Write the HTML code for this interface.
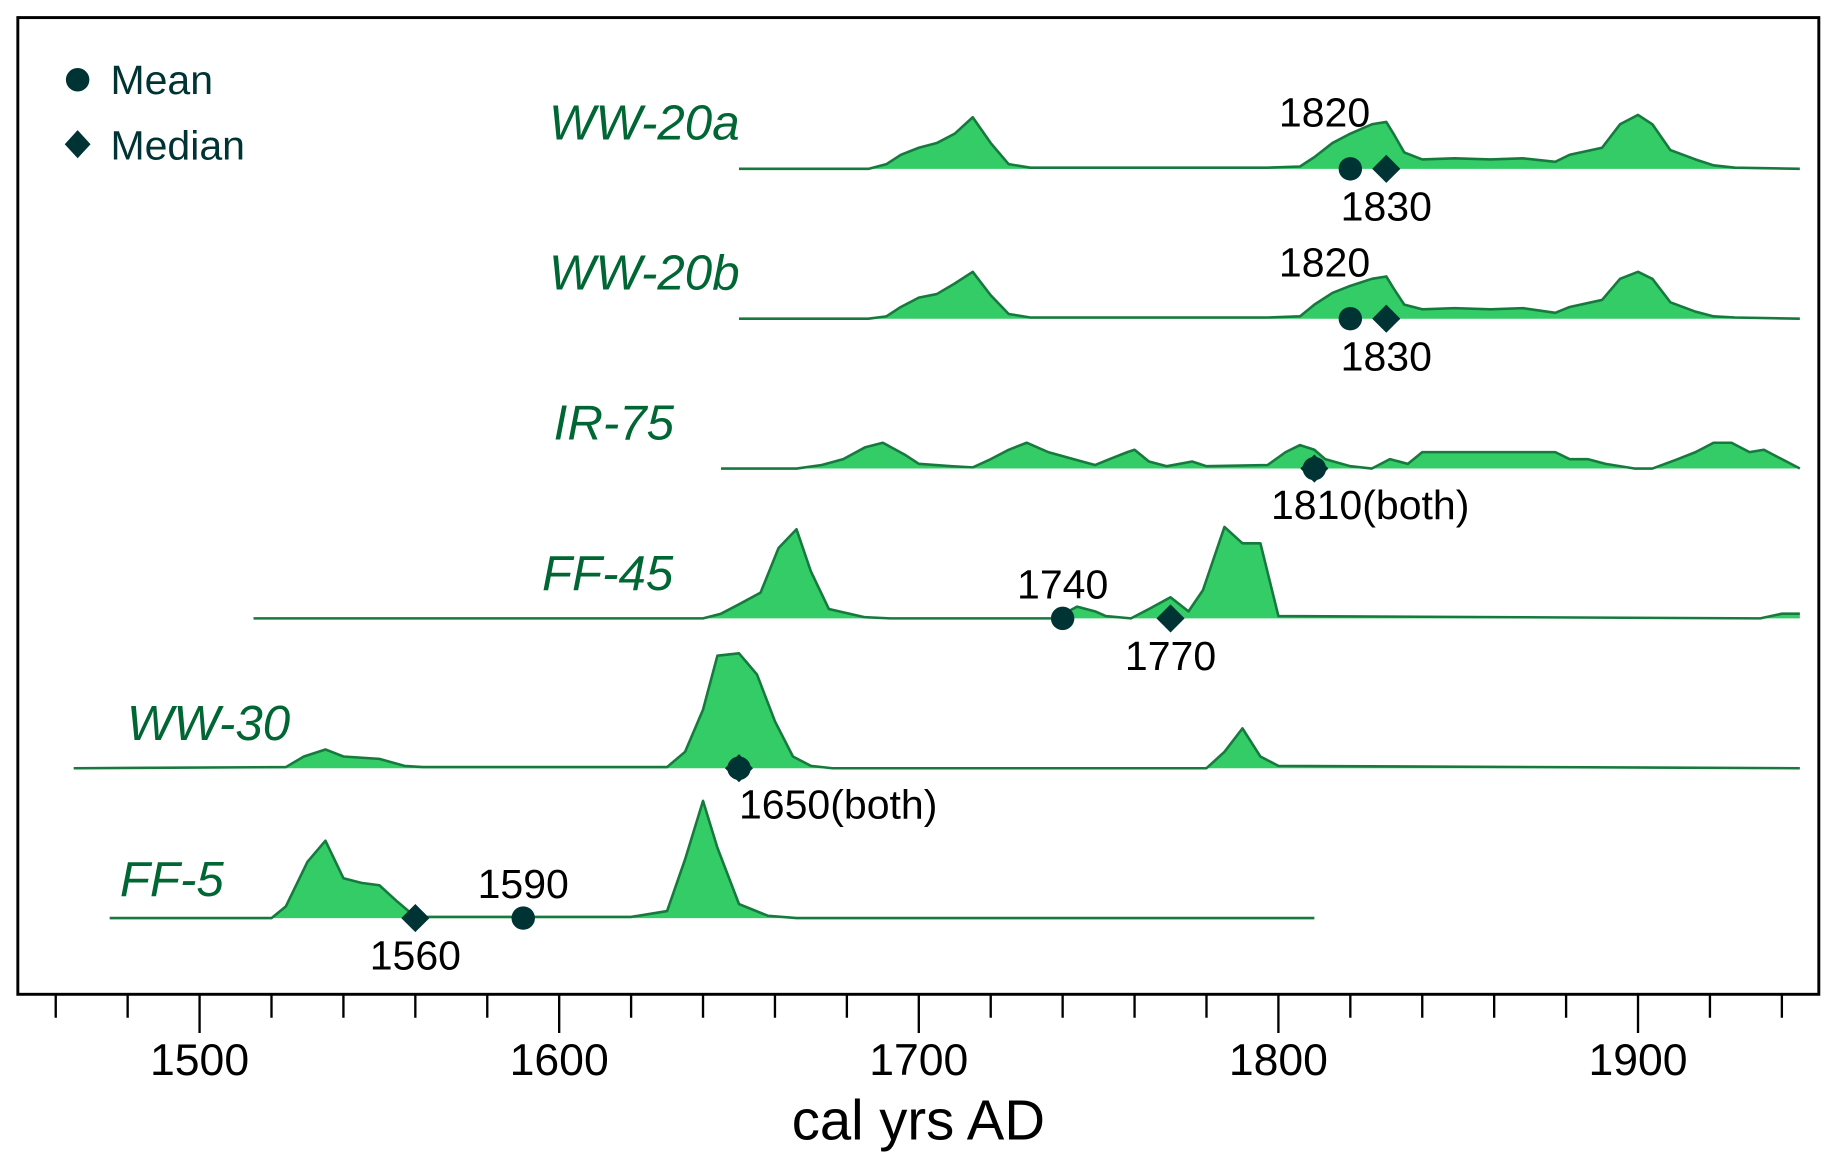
<!DOCTYPE html>
<html><head><meta charset="utf-8"><style>
html,body{margin:0;padding:0;background:#fff}
svg{display:block}
text{font-family:"Liberation Sans",sans-serif}
</style></head><body>
<svg id="chart" width="1839" height="1169" viewBox="0 0 1568 997" xmlns="http://www.w3.org/2000/svg">
<rect x="15" y="15" width="1536" height="833" fill="#fff" stroke="#000" stroke-width="2.5"/>
<g id="axis"></g>
<g id="series"></g>
<g>
<circle cx="66" cy="68" r="10" fill="#003333"/>
<text x="94" y="80" font-size="35" fill="#003333">Mean</text>
<path d="M66 111 L77 123 L66 135 L55 123 Z" fill="#003333"/>
<text x="94" y="136" font-size="35" fill="#003333">Median</text>
</g>
<text x="783" y="972" font-size="48" text-anchor="middle" fill="#000">cal yrs AD</text>
</svg>
<script>
const names = ["WW-20a","WW-20b","IR-75","FF-45","WW-30","FF-5"];
const ww20aYears = [1650,1686,1691,1695,1700,1705,1710,1715,1720,1725,1731,1758,1771,1797,1806,1810,1815,1820,1826,1830,1832,1835,1840,1849,1859,1868,1877,1881,1890,1895,1900,1904,1909,1916,1921,1927,1945];
const ww20aDens  = [0,0,4,12,18,22,30,44,22,4,1,1,1,1,2,10,22,30,38,40,30,14,8,9,8,9,6,12,18,38,46,38,16,8,3,1,0];
const ww20bYears = [1650,1686,1691,1695,1700,1705,1710,1715,1720,1725,1731,1758,1771,1797,1806,1810,1815,1820,1826,1830,1832,1835,1840,1849,1859,1868,1877,1881,1890,1895,1900,1904,1909,1916,1921,1927,1945];
const ww20bDens  = [0,0,2,10,18,21,30,40,20,4,1,1,1,1,2,12,22,28,34,36,26,12,8,9,8,9,5,10,16,34,40,34,14,6,2,1,0];
const ir75Years = [1645,1666,1673,1679,1685,1690,1696,1700,1709,1715,1720,1725,1730,1736,1743,1749,1753,1758,1760,1764,1769,1776,1780,1797,1802,1806,1810,1813,1820,1826,1831,1836,1840,1849,1857,1864,1870,1877,1881,1886,1891,1899,1904,1911,1916,1921,1926,1931,1935,1940,1945];
const ir75Dens  = [0,0,3,8,18,22,12,4,2,1,8,16,22,14,8,3,8,14,16,6,2,6,2,3,14,20,16,8,2,0,8,4,14,14,14,14,14,14,8,8,4,0,0,8,14,22,22,14,16,8,0];
const ff45Years = [1515,1640,1645,1650,1656,1661,1666,1670,1675,1685,1692,1738,1744,1749,1752,1759,1764,1770,1775,1779,1785,1790,1795,1800,1934,1940,1945];
const ff45Dens  = [0,0,4,12,22,60,76,40,8,1,0,0,10,6,2,0,8,18,6,24,78,64,64,2,0,4,4];
const ww30Years = [1465,1524,1529,1535,1540,1550,1557,1562,1608,1630,1635,1640,1644,1650,1655,1660,1665,1670,1676,1780,1785,1790,1795,1800,1945];
const ww30Dens  = [0,1,10,16,10,8,2,1,1,1,14,50,96,98,80,40,10,2,0,0,14,34,10,2,0];
const ff5Years = [1475,1520,1524,1530,1535,1540,1545,1550,1555,1560,1575,1620,1630,1635,1640,1644,1650,1658,1666,1810];
const ff5Dens  = [0,0,10,48,66,34,30,28,14,1,1,1,6,50,100,60,12,2,0,0];
const seriesYears = [ww20aYears,ww20bYears,ir75Years,ff45Years,ww30Years,ff5Years];
const seriesDens = [ww20aDens,ww20bDens,ir75Dens,ff45Dens,ww30Dens,ff5Dens];
const meanYears = [1820,1820,1810,1740,1650,1590];
const medianYears = [1830,1830,1810,1770,1650,1560];
const tickYears = [1460,1480,1500,1520,1540,1560,1580,1600,1620,1640,1660,1680,1700,1720,1740,1760,1780,1800,1820,1840,1860,1880,1900,1920,1940];
const tickLabels = ["1500","1600","1700","1800","1900"];

const NS="http://www.w3.org/2000/svg";
const xs = y => 170 + (y-1500)*3.067;
const base = i => 144 + i*127.8;
const ys = (i,d) => base(i) - d;
function mk(tag, attrs, parent){const e=document.createElementNS(NS,tag);for(const k in attrs)e.setAttribute(k,attrs[k]);parent.appendChild(e);return e;}

const axis=document.getElementById('axis');
tickYears.forEach(t=>{
  const major = t%100===0;
  const l=mk('line',{x1:xs(t),x2:xs(t),y1:848,y2:major?881:868,stroke:'#000','stroke-width':2},axis);
  
  
});
tickLabels.forEach(s=>{
  const t=mk('text',{x:xs(+s),y:917,'font-size':38,'text-anchor':'middle',fill:'#000'},axis);
  t.textContent=s;
  
  
});

const sg=document.getElementById('series');
const labelPos=[[468,119],[468,247],[472,375],[462,503],[108,631],[102,764]];
names.forEach((n,i)=>{
  const yr=seriesYears[i], d=seriesDens[i];
  let p='M'+xs(yr[0])+' '+base(i);
  yr.forEach((y,j)=>{p+=' L'+xs(y)+' '+ys(i,d[j]);});
  p+=' L'+xs(yr[yr.length-1])+' '+base(i)+' Z';
  const a=mk('path',{d:p,fill:'#33cc66',stroke:'none'},sg);
  
  
  let lp=''; yr.forEach((y,j)=>{lp+=(j?' L':'M')+xs(y)+' '+ys(i,d[j]);});
  const ln=mk('path',{d:lp,fill:'none',stroke:'#167a3e','stroke-width':2.2,'stroke-linejoin':'round'},sg);
  
  
  const t=mk('text',{x:labelPos[i][0],y:labelPos[i][1],'font-size':42,'font-style':'italic',fill:'#006633'},sg);
  t.textContent=n;
  
  
  const c=mk('circle',{cx:xs(meanYears[i]),cy:base(i),r:10,fill:'#003333'},sg);
  
  
  const mx=xs(medianYears[i]), my=base(i);
  const dm=mk('path',{d:`M${mx} ${my-12} L${mx+12} ${my} L${mx} ${my+12} L${mx-12} ${my} Z`,fill:'#003333'},sg);
  
  
  function lab(txt,x,y,anchor){const e=mk('text',{x:x,y:y,'font-size':35,'text-anchor':anchor||'middle',fill:'#000'},sg);e.textContent=txt;
    
    }
  const b=base(i);
  if(meanYears[i]===medianYears[i]){
    lab(meanYears[i]+'(both)',xs(meanYears[i])+(i===4?0:-37),b+43,'start');
  } else if(i<2){
    lab(String(meanYears[i]),xs(meanYears[i])-22,b-36);
    lab(String(medianYears[i]),xs(medianYears[i]),b+44);
  } else {
    lab(String(meanYears[i]),xs(meanYears[i]),b-17);
    lab(String(medianYears[i]),xs(medianYears[i]),b+44);
  }
});
</script>
</body></html>
